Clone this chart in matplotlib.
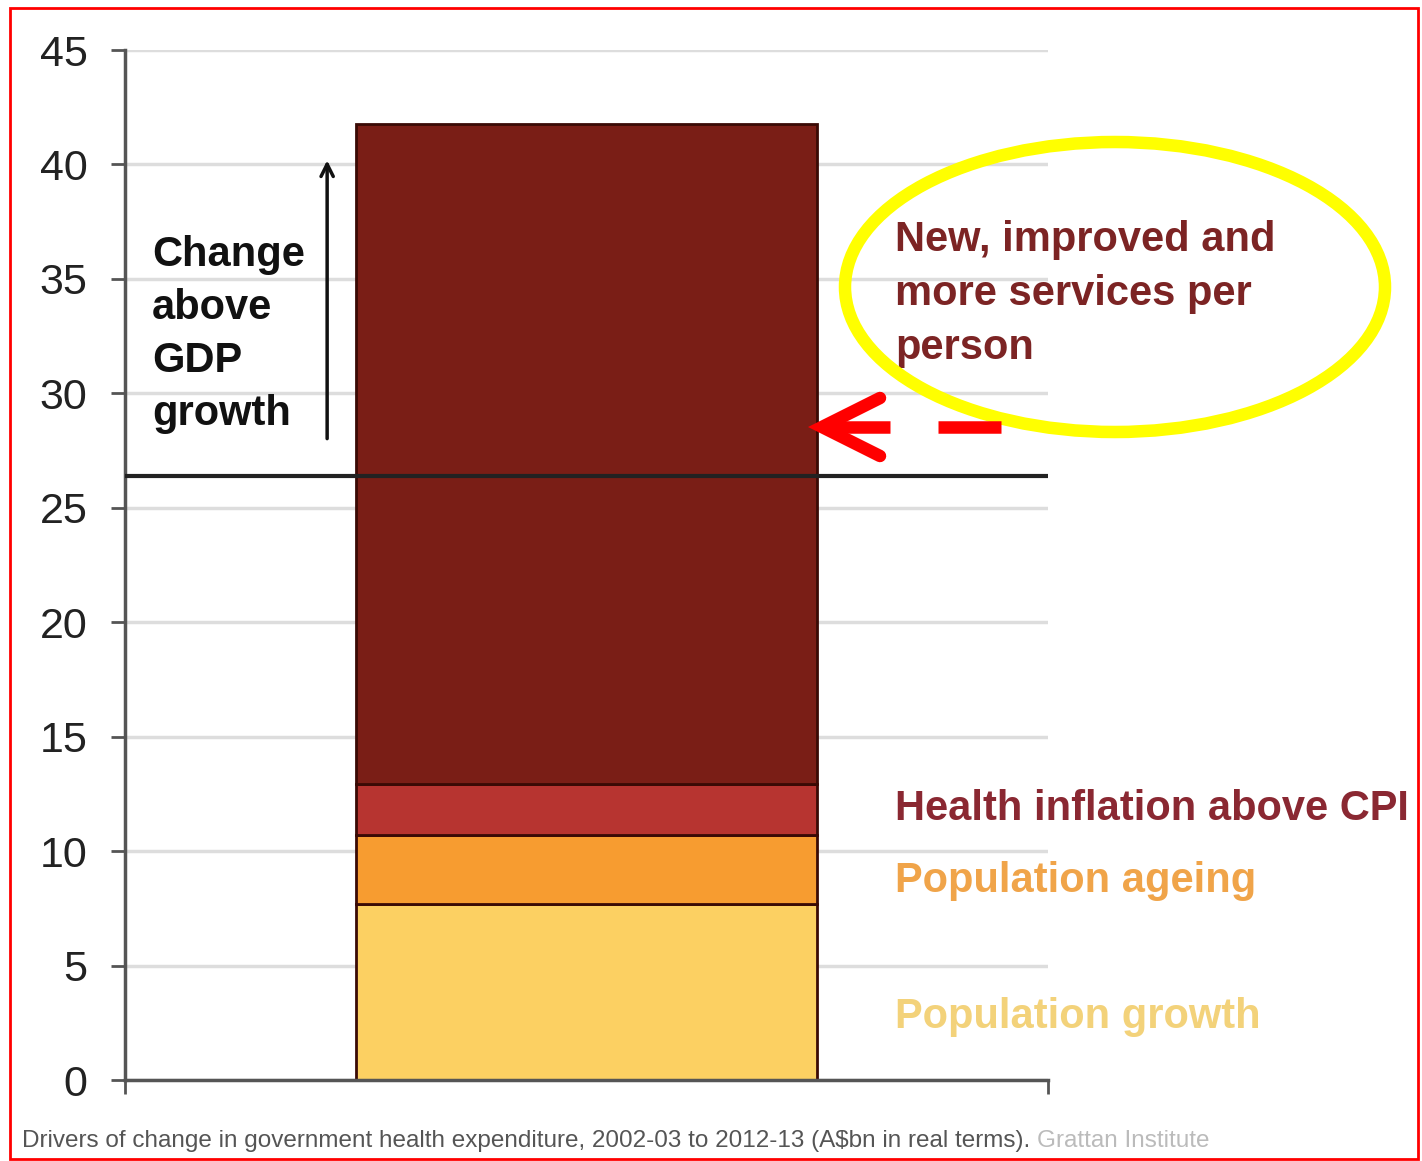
import matplotlib.pyplot as plt
from matplotlib.patches import Ellipse, Rectangle
from matplotlib.lines import Line2D

plt.rcParams["font.family"] = ["Liberation Sans", "DejaVu Sans"]

# stacked drivers (A$bn, real terms)
segments = ["Population growth", "Population ageing", "Health inflation above CPI",
            "New, improved and\nmore services per\nperson"]
values = [7.7, 3.0, 2.25, 28.8]
colors = ["#fcd062", "#f79c30", "#b73430", "#7a1e16"]
label_colors = ["#f3d27a", "#f0a449", "#8a2832", "#7c2424"]
label_y = [2.75, 8.7, 11.85, 34.35]
gdp_line = 26.4
yticks = [0, 5, 10, 15, 20, 25, 30, 35, 40, 45]

W, H = 1422, 1161
fig = plt.figure(figsize=(W / 100, H / 100), dpi=100)
ax = fig.add_axes([125 / W, 1 - 1080 / H, (1048 - 125) / W, (1080 - 50) / H])


def fx(px):
    return px / W


def fy(py):
    return 1 - py / H


ax.set_xlim(0, 1)
ax.set_ylim(0, 45)
ax.set_yticks(yticks)
ax.set_xticks([0, 1])
ax.set_xticklabels([])
ax.tick_params(axis="y", length=10, width=2, color="#555555", labelsize=31, pad=17,
               labelcolor="#222222")
ax.tick_params(axis="x", length=10, width=2, color="#555555", direction="out")
for s in ["top", "right"]:
    ax.spines[s].set_visible(False)
for s in ["left", "bottom"]:
    ax.spines[s].set_color("#555555")
    ax.spines[s].set_linewidth(2.5)
ax.yaxis.grid(True, color="#dddddd", linewidth=2.5)
ax.set_axisbelow(True)

bottom = 0
for v, c in zip(values, colors):
    ax.bar(0.5, v, width=0.5, bottom=bottom, color=c, edgecolor="#3a0a05", linewidth=2)
    bottom += v

ax.axhline(gdp_line, color="#222222", linewidth=3, zorder=5)

# labels to the right of the bar
for lab, col, yy in zip(segments, label_colors, label_y):
    ax.text(0.834, yy, lab, color=col, fontsize=30, fontweight="bold",
            va="center", ha="left", linespacing=1.45, clip_on=False)

ax.text(0.029, 32.55, "Change\nabove\nGDP\ngrowth", fontsize=30, fontweight="bold",
        color="#111111", va="center", ha="left", linespacing=1.42)
ax.annotate("", xy=(0.219, 40.3), xytext=(0.219, 27.9),
            arrowprops=dict(arrowstyle="->", color="#111111", lw=2.5,
                            mutation_scale=22))

# yellow highlight ellipse and red dashed arrow
fig.add_artist(Ellipse((fx(1115), fy(287)), 540 / W, 290 / H, transform=fig.transFigure,
                       fill=False, edgecolor="#ffff00", linewidth=9))
fig.add_artist(Line2D([fx(880), fx(822), fx(880)], [fy(398), fy(427), fy(456)],
                      transform=fig.transFigure, color="#ff0000", linewidth=9,
                      solid_capstyle="round", solid_joinstyle="miter"))
fig.add_artist(Line2D([fx(826), fx(890)], [fy(427), fy(427)], transform=fig.transFigure,
                      color="#ff0000", linewidth=9, solid_capstyle="butt"))
fig.add_artist(Line2D([fx(938), fx(1001)], [fy(427), fy(427)], transform=fig.transFigure,
                      color="#ff0000", linewidth=9, solid_capstyle="butt"))

# caption
cap = fig.text(fx(22), fy(1141),
               "Drivers of change in government health expenditure, 2002-03 to 2012-13 "
               "(A$bn in real terms). ", fontsize=17.5, color="#555555", va="center")
fig.canvas.draw()
bb = cap.get_window_extent()
fig.text(bb.x1 / W, fy(1141), "Grattan Institute", fontsize=17.5, color="#bbbbbb",
         va="center")

# red frame
fig.add_artist(Rectangle((fx(10), fy(1159)), (1418 - 10) / W, (1159 - 8) / H,
                         transform=fig.transFigure, fill=False, edgecolor="#ff0000",
                         linewidth=2))

fig.savefig("out.png", dpi=100)
